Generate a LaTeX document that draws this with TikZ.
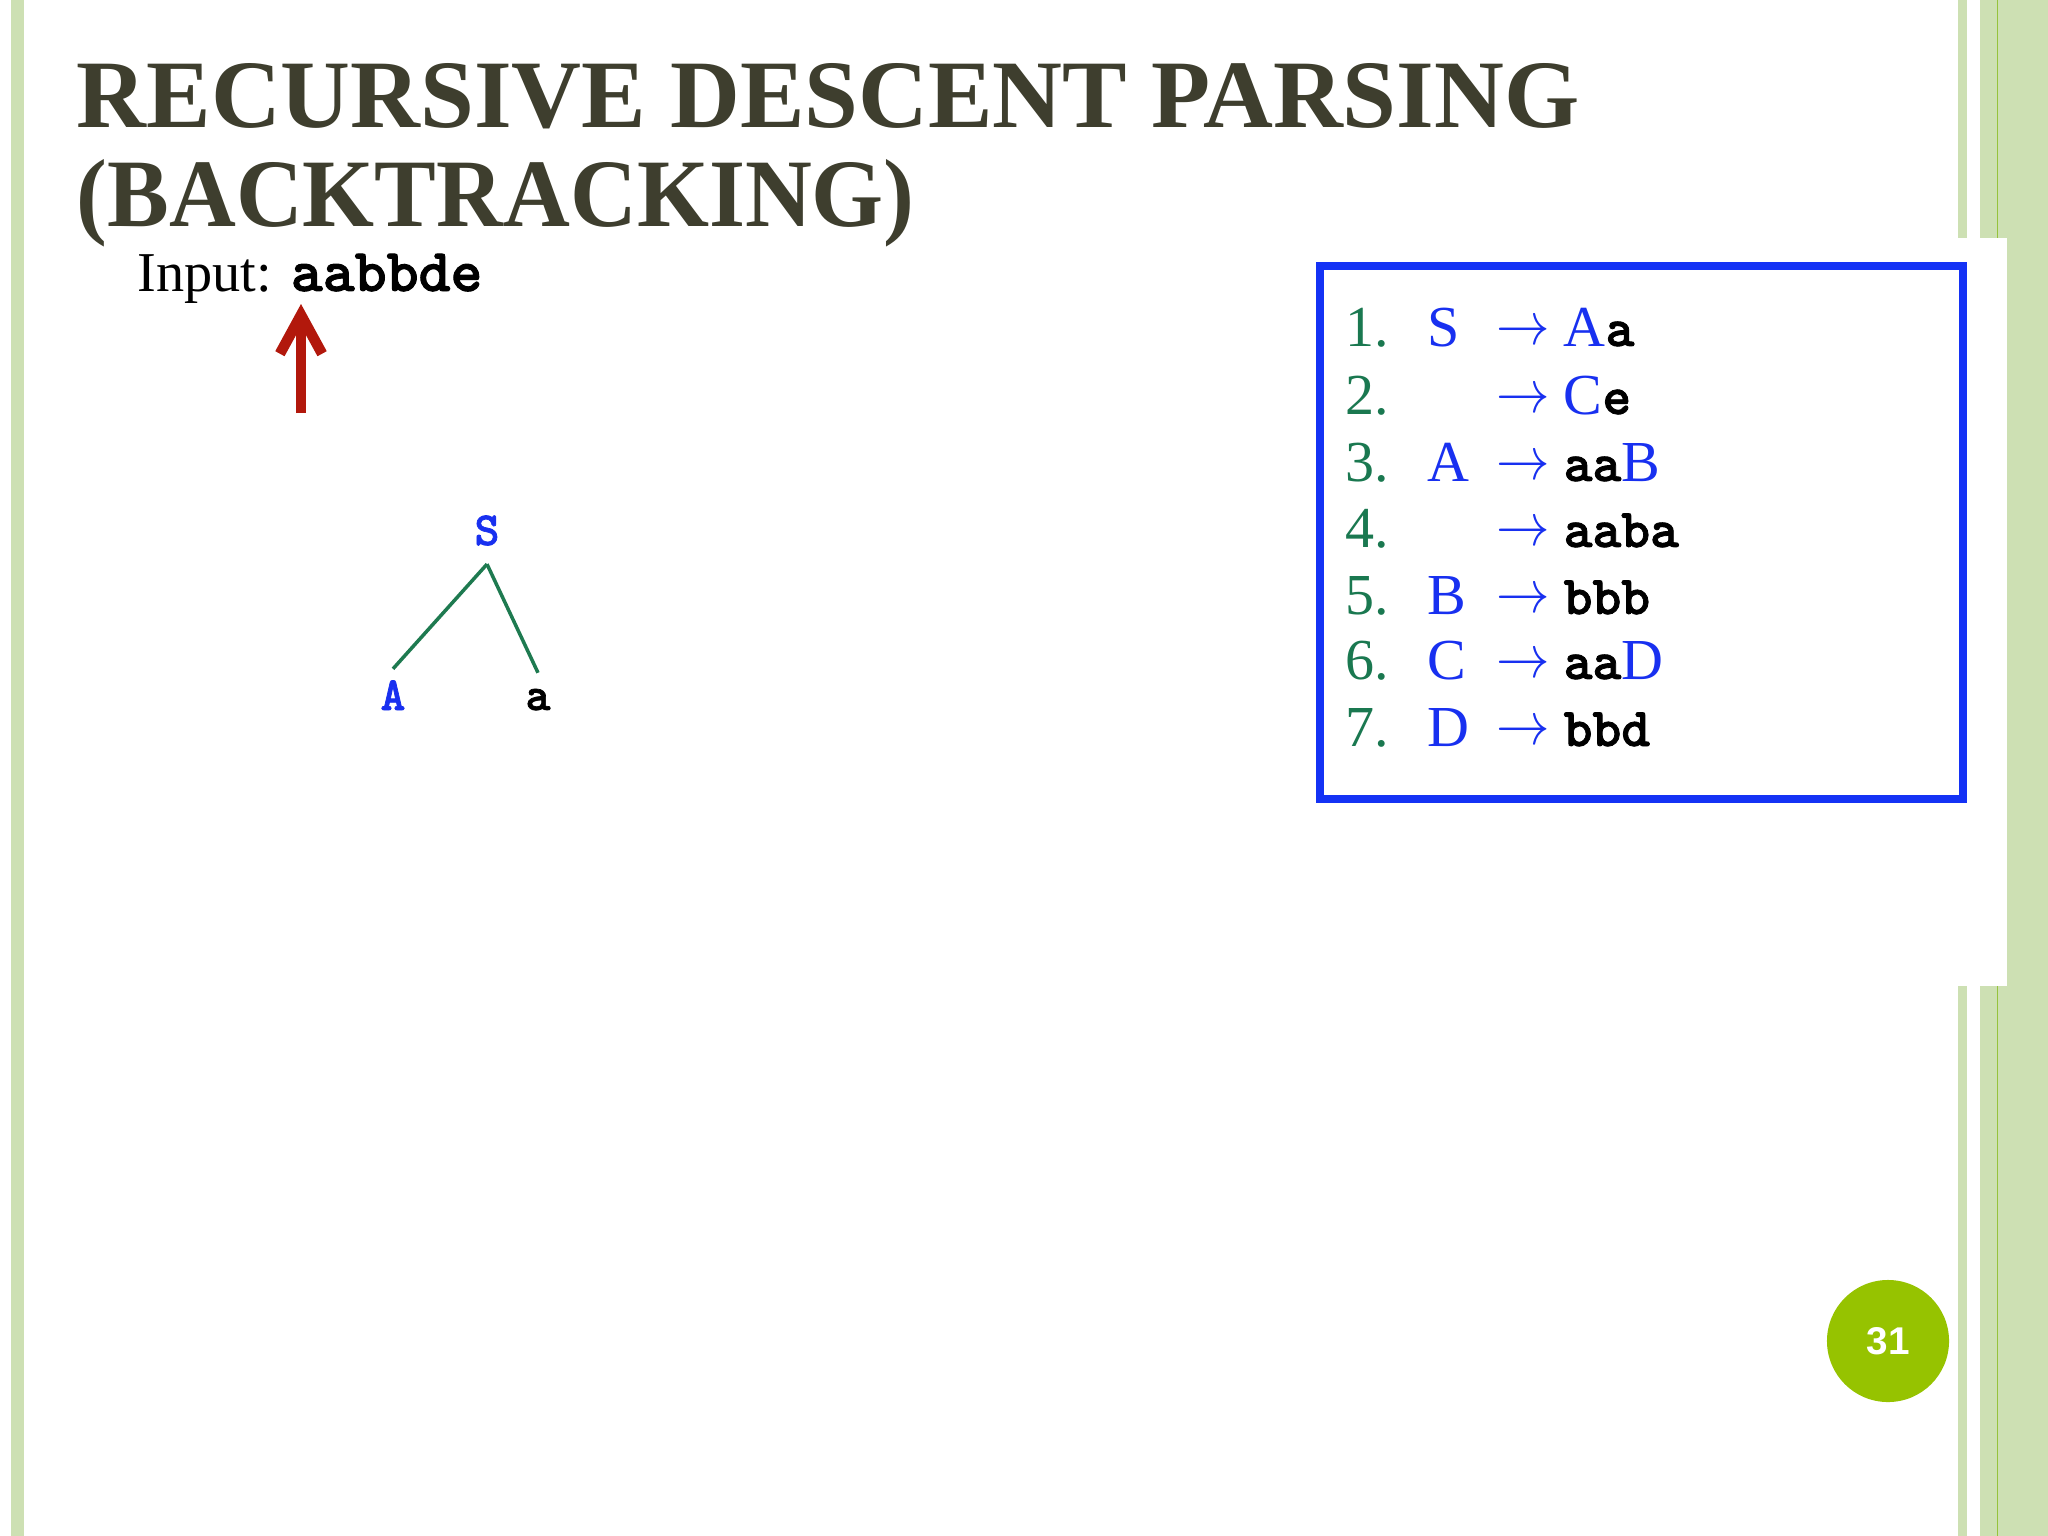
\documentclass[tikz,border=0pt]{standalone}
\usepackage{graphicx}
\usepackage{fontspec}
\setmainfont{Liberation Serif}
\setsansfont{Liberation Sans}
\newfontfamily\courfont{lmmonolt10-bold}[Extension=.otf, FakeBold=1.5]
\usetikzlibrary{arrows.meta}

\definecolor{stripegreen}{RGB}{205,224,179}
\definecolor{stripeline}{RGB}{150,195,60}
\definecolor{titlegray}{RGB}{62,62,46}
\definecolor{ptrred}{RGB}{178,24,12}
\definecolor{ntblue}{RGB}{24,48,240}
\definecolor{numgreen}{RGB}{26,120,80}
\definecolor{edgegreen}{RGB}{30,122,80}
\definecolor{boxblue}{RGB}{20,50,245}
\definecolor{pagegreen}{RGB}{150,195,0}

\newcommand{\nt}[1]{\textcolor{ntblue}{#1}}
\newcommand{\tm}[1]{{\courfont\fontsize{15.6}{17}\selectfont #1}}
\newcommand{\inp}[1]{{\courfont\fontsize{17.3}{19}\selectfont #1}}
\newcommand{\derives}{\raisebox{0.5pt}{\scalebox{0.88}[1]{$\rightarrow$}}}

\tikzset{
  slidetitle/.style={anchor=base west, inner sep=0pt, text=titlegray,
    font=\fontsize{27.5}{30}\selectfont\bfseries},
  inputtext/.style={anchor=base west, inner sep=0pt, font=\fontsize{16}{18}\selectfont},
  pointer/.style={draw=ptrred, line width=3pt, -{Straight Barb[length=11pt,width=12pt]}},
  treent/.style={anchor=base, inner xsep=0pt, text=ntblue,
    font=\courfont\fontsize{13.5}{15}\selectfont},
  treetm/.style={treent, text=black},
  treeedge/.style={draw=edgegreen, line width=1pt},
  gram/.style={anchor=base west, inner sep=0pt, font=\fontsize{16.5}{18}\selectfont},
  gramnum/.style={gram, text=numgreen},
  gramlhs/.style={gram, text=ntblue},
  gramarrow/.style={gram, text=ntblue},
  gramframe/.style={draw=boxblue, line width=2.3pt},
  pagenum/.style={circle, fill=pagegreen, minimum size=1.22cm, inner sep=0pt, text=white,
    font=\sffamily\bfseries\fontsize{11}{13}\selectfont}
}

\begin{document}
\begin{tikzpicture}[x=0.01cm, y=-0.01cm]
 \useasboundingbox (0,0) rectangle (2048,1536);
 \fill[white] (0,0) rectangle (2048,1536);

 % side stripes
 \fill[stripegreen] (11,0) rectangle (24,1536);
 \fill[stripegreen] (1958,0) rectangle (1967,1536);
 \fill[stripegreen] (1980,0) rectangle (2048,1536);
 \fill[stripeline] (1996.5,0) rectangle (1997.6,1536);
 \fill[white] (1930,238) rectangle (2007,986);

 % title
 \node[slidetitle] (title1) at (76,127) {RECURSIVE DESCENT PARSING};
 \node[slidetitle] (title2) at (76,226) {\scalebox{0.957}[1]{(BACKTRACKING)}};

 % input and pointer
 \node[inputtext] (input) at (137,291) {Input: \inp{aabbde}};
 \coordinate (ptr) at (301,413);
 \coordinate (ptrtip) at (301,304);
 \draw[pointer] (ptr) -- (ptrtip);

 % parse tree
 \node[treent, inner ysep=5.1pt] (S) at (487,545) {S};
 \node[treent, inner ysep=3.1pt] (A) at (393,710) {A};
 \node[treetm, inner ysep=4.4pt] (a) at (538,710) {a};
 \draw[treeedge] (S.south) -- (A.north);
 \draw[treeedge] (S.south) -- (a.north);

 % grammar
 \draw[gramframe] (1320,266) rectangle (1963,799);
 \node[gramnum] (n1) at (1345,346) {1.};
 \node[gramlhs] (l1) at (1427,346) {S};
 \node[gramarrow] (t1) at (1496,346) {\derives};
 \node[gram] (r1) at (1563,346) {\nt{A}\tm{a}};
 \node[gramnum] (n2) at (1345,414) {2.};
 \node[gramarrow] (t2) at (1496,414) {\derives};
 \node[gram] (r2) at (1563,414) {\nt{C}\tm{e}};
 \node[gramnum] (n3) at (1345,481) {3.};
 \node[gramlhs] (l3) at (1427,481) {A};
 \node[gramarrow] (t3) at (1496,481) {\derives};
 \node[gram] (r3) at (1563,481) {\tm{aa}\nt{B}};
 \node[gramnum] (n4) at (1345,547) {4.};
 \node[gramarrow] (t4) at (1496,547) {\derives};
 \node[gram] (r4) at (1563,547) {\tm{aaba}};
 \node[gramnum] (n5) at (1345,614) {5.};
 \node[gramlhs] (l5) at (1427,614) {B};
 \node[gramarrow] (t5) at (1496,614) {\derives};
 \node[gram] (r5) at (1563,614) {\tm{bbb}};
 \node[gramnum] (n6) at (1345,679) {6.};
 \node[gramlhs] (l6) at (1427,679) {C};
 \node[gramarrow] (t6) at (1496,679) {\derives};
 \node[gram] (r6) at (1563,679) {\tm{aa}\nt{D}};
 \node[gramnum] (n7) at (1345,746) {7.};
 \node[gramlhs] (l7) at (1427,746) {D};
 \node[gramarrow] (t7) at (1496,746) {\derives};
 \node[gram] (r7) at (1563,746) {\tm{bbd}};

 % page number
 \node[pagenum] (page) at (1888,1341) {31};
\end{tikzpicture}
\end{document}
